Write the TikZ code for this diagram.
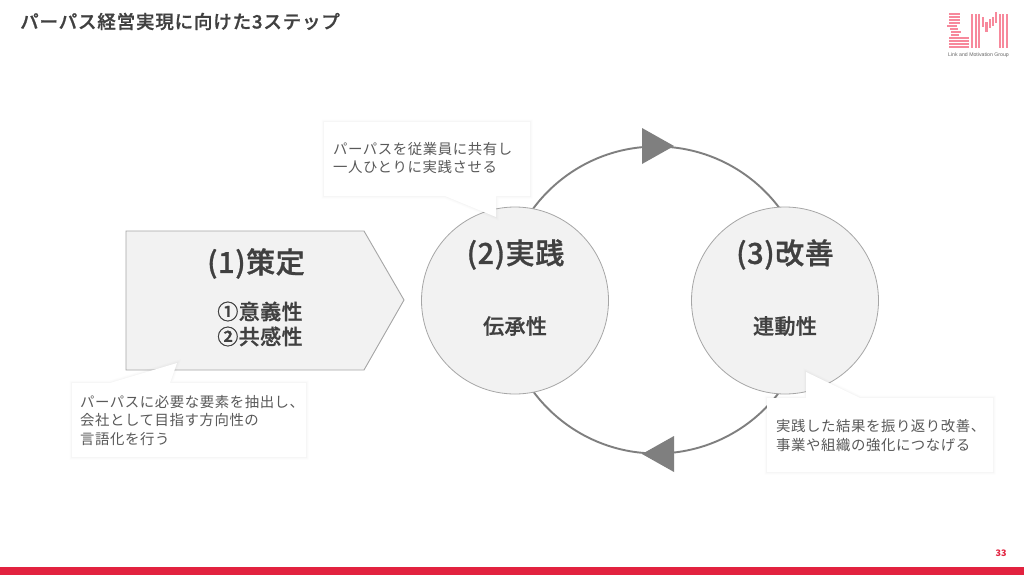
\documentclass[tikz,border=0pt]{standalone}
\usepackage{fontspec}
\setmainfont{Noto Sans CJK JP}[LetterSpace=4]
\newfontfamily\medfont{Noto Sans CJK JP Medium}[LetterSpace=4.5,FakeBold=1]
\newfontfamily\medtight{Noto Sans CJK JP Medium}[LetterSpace=2,FakeBold=1]
\setsansfont{Liberation Sans}
\definecolor{ink}{HTML}{404040}
\definecolor{mid}{HTML}{595959}
\definecolor{ringgrey}{HTML}{7F7F7F}
\definecolor{panel}{HTML}{F2F2F2}
\definecolor{edge}{HTML}{A6A6A6}
\definecolor{brand}{HTML}{E2223F}
\definecolor{logo}{HTML}{F7899C}
\tikzset{
  x=1pt,y=-1pt,
  stage/.style={circle,draw=edge,fill=panel,line width=.8pt,minimum size=187pt,inner sep=0pt},
  panelshape/.style={draw=edge,fill=panel,line width=.9pt},
  callout/.style={fill=white,
    preaction={draw=black,opacity=.012,line width=5pt},
    preaction={draw=black,opacity=.012,line width=3pt},
    preaction={draw=black,opacity=.014,line width=1.5pt}},
  note/.style={inner sep=0pt,align=left,anchor=north west,text=mid,font=\fontsize{14.4}{18.6}\selectfont},
  head/.style={inner sep=0pt,text=ink,font=\medtight\fontsize{29}{32}\selectfont},
  sub/.style={inner sep=0pt,align=center,text=ink,font=\medtight\fontsize{21}{25}\selectfont},
  logobar/.style={fill=logo,draw=none}
}
\begin{document}
\begin{tikzpicture}
\useasboundingbox (0,0) rectangle (1024,575);
\fill[white] (0,0) rectangle (1024,575);
\node[inner sep=0pt,anchor=west,text=ink,font=\medfont\fontsize{18.5}{20}\selectfont] (title) at (20,21.5) {パーパス経営実現に向けた3ステップ};
% logo
\foreach \y/\a/\b in {13.5/949/960,16.5/949/960,19.5/949/960,22.5/949/960,25.5/947/957,28.5/950/958,31.5/951/961,34.5/951/959,37.5/949/969,40.5/949/969,43.5/949/969,46/949/969}
  \fill[logobar] (\a,\y) rectangle (\b,\y+2);
\foreach \a in {971,974.5,978,998.5,1002,1005.5}
  \fill[logobar] (\a,14) rectangle (\a+2.3,48);
\fill[logobar] (982,17) rectangle (984.4,27);
\fill[logobar] (985.3,22) rectangle (987.7,32);
\fill[logobar] (988.6,19) rectangle (991,28);
\fill[logobar] (991.9,17) rectangle (994.3,26);
\fill[logobar] (995,12) rectangle (997.4,23);
\node[inner sep=0pt,text=black!60,font=\sffamily\fontsize{5.2}{6}\selectfont] (logotext) at (978.5,55) {Link and Motivation Group};
% loop
\coordinate (hub) at (656.5,300);
\draw[ringgrey,line width=1.9pt] (hub) circle[radius=153.5];
\fill[ringgrey] (642,128) -- (674,146) -- (642,164) -- cycle;
\fill[ringgrey] (674,436) -- (642,454) -- (674,472) -- cycle;
% step 1
\draw[panelshape] (126,231) -- (364,231) -- (404,300) -- (364,370) -- (126,370) -- cycle;
\node[head] (s1) at (256,263.5) {(1)策定};
\node[sub] (s1b) at (260,324) {①意義性\\②共感性};
% steps 2,3
\node[stage] (c2) at (515,300.5) {};
\node[stage] (c3) at (785,300.5) {};
\node[head] (s2) at (515.5,254.5) {(2)実践};
\node[sub] (s2b) at (515,326) {伝承性};
\node[head] (s3) at (785,254.5) {(3)改善};
\node[sub] (s3b) at (785,326) {連動性};
% callouts
\path[callout] (324,122) -- (530,122) -- (530,196) -- (496,196) -- (496,217) -- (445,196) -- (324,196) -- cycle;
\node[note] (n1) at (333,142) {パーパスを従業員に共有し\\一人ひとりに実践させる};
\path[callout] (72,383) -- (110,383) -- (177,363) -- (170,383) -- (306,383) -- (306,457) -- (72,457) -- cycle;
\node[note] (n2) at (80,395) {パーパスに必要な要素を抽出し、\\会社として目指す方向性の\\言語化を行う};
\path[callout] (767,398) -- (806,398) -- (806,372) -- (860,398) -- (993,398) -- (993,472) -- (767,472) -- cycle;
\node[note] (n3) at (776,419.5) {実践した結果を振り返り改善、\\事業や組織の強化につなげる};
% footer
\fill[brand] (0,567) rectangle (1024,575);
\node[inner sep=0pt,text=brand,font=\bfseries\addfontfeature{LetterSpace=0}\fontsize{9}{10}\selectfont] (page) at (1001,553) {33};
\end{tikzpicture}
\end{document}
